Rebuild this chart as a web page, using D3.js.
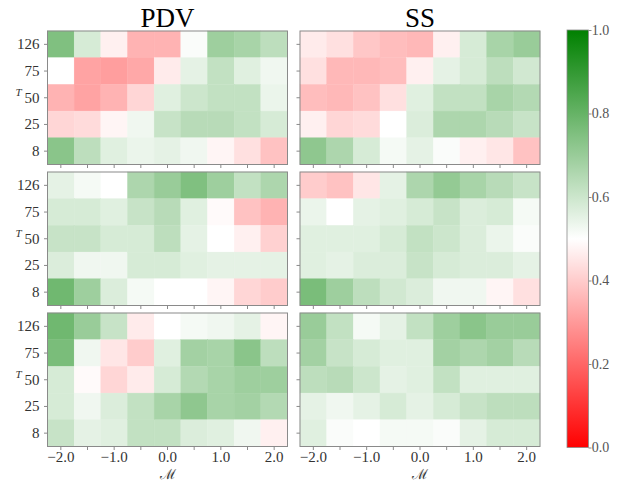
<!DOCTYPE html>
<html>
<head>
<meta charset="utf-8">
<script src="https://cdn.jsdelivr.net/npm/d3@7"></script>
<style>
  body { margin: 0; background: #fff; }
</style>
</head>
<body>
<div id="chart"></div>
<script>
// Axis categories
const mValues = [-2.0, -1.5, -1.0, -0.5, 0.0, 0.5, 1.0, 1.5, 2.0];
const tValues = [126, 75, 50, 25, 8];
const columnTitles = ['PDV', 'SS'];
const colorbarTicks = [0.0, 0.2, 0.4, 0.6, 0.8, 1.0];

// Heatmap values, rows follow tValues (126 at top), columns follow mValues
const pdvTop = [
  [0.75, 0.58, 0.47, 0.35, 0.35, 0.51, 0.69, 0.67, 0.63],
  [0.50, 0.32, 0.31, 0.33, 0.46, 0.55, 0.62, 0.56, 0.53],
  [0.35, 0.32, 0.35, 0.42, 0.56, 0.60, 0.62, 0.62, 0.54],
  [0.42, 0.43, 0.48, 0.53, 0.61, 0.64, 0.64, 0.62, 0.58],
  [0.73, 0.63, 0.56, 0.54, 0.55, 0.53, 0.48, 0.44, 0.38]
];
const ssTop = [
  [0.46, 0.44, 0.39, 0.37, 0.36, 0.47, 0.58, 0.67, 0.70],
  [0.44, 0.36, 0.36, 0.37, 0.47, 0.55, 0.58, 0.63, 0.59],
  [0.37, 0.36, 0.38, 0.44, 0.56, 0.62, 0.62, 0.67, 0.65],
  [0.47, 0.42, 0.43, 0.50, 0.57, 0.66, 0.66, 0.64, 0.61],
  [0.72, 0.66, 0.58, 0.52, 0.55, 0.51, 0.47, 0.45, 0.38]
];
const pdvMid = [
  [0.55, 0.52, 0.50, 0.66, 0.70, 0.75, 0.69, 0.62, 0.66],
  [0.58, 0.58, 0.56, 0.61, 0.64, 0.56, 0.49, 0.38, 0.35],
  [0.61, 0.61, 0.58, 0.58, 0.63, 0.55, 0.50, 0.47, 0.41],
  [0.57, 0.53, 0.53, 0.58, 0.58, 0.56, 0.55, 0.55, 0.55],
  [0.78, 0.69, 0.57, 0.52, 0.50, 0.50, 0.48, 0.42, 0.40]
];
const ssMid = [
  [0.40, 0.38, 0.45, 0.55, 0.66, 0.71, 0.67, 0.64, 0.61],
  [0.54, 0.50, 0.55, 0.56, 0.58, 0.61, 0.57, 0.58, 0.52],
  [0.56, 0.56, 0.56, 0.58, 0.62, 0.60, 0.57, 0.54, 0.51],
  [0.56, 0.55, 0.57, 0.57, 0.61, 0.58, 0.57, 0.57, 0.55],
  [0.76, 0.69, 0.63, 0.59, 0.57, 0.53, 0.53, 0.48, 0.44]
];
const pdvBottom = [
  [0.78, 0.70, 0.61, 0.46, 0.50, 0.52, 0.53, 0.55, 0.48],
  [0.76, 0.53, 0.45, 0.40, 0.56, 0.68, 0.67, 0.73, 0.63],
  [0.58, 0.49, 0.42, 0.46, 0.58, 0.65, 0.67, 0.69, 0.69],
  [0.58, 0.53, 0.57, 0.62, 0.67, 0.72, 0.67, 0.68, 0.65],
  [0.61, 0.55, 0.56, 0.62, 0.62, 0.57, 0.56, 0.53, 0.47]
];
const ssBottom = [
  [0.70, 0.62, 0.52, 0.55, 0.62, 0.69, 0.73, 0.70, 0.70],
  [0.68, 0.61, 0.58, 0.56, 0.56, 0.68, 0.66, 0.68, 0.64],
  [0.63, 0.64, 0.60, 0.55, 0.56, 0.62, 0.56, 0.56, 0.56],
  [0.55, 0.53, 0.55, 0.58, 0.55, 0.58, 0.61, 0.63, 0.63],
  [0.56, 0.51, 0.50, 0.52, 0.52, 0.51, 0.55, 0.58, 0.58]
];

const grid = [
  [pdvTop, ssTop],
  [pdvMid, ssMid],
  [pdvBottom, ssBottom]
];

const width = 640;
const height = 482;
const panelW = 240;
const panelH = 133.5;
const colX = [47.5, 300];
const rowY = [31, 172, 313];
const spineColor = '#8a8a8a';
const textColor = '#333';
const serif = "'Liberation Serif', 'DejaVu Serif', serif";

const svg = d3
  .select('#chart')
  .append('svg')
  .attr('width', width)
  .attr('height', height)
  .style('font-family', serif);

const x = d3.scaleBand().domain(mValues).range([0, panelW]);
const y = d3.scaleBand().domain(tValues).range([0, panelH]);
const color = d3
  .scaleLinear()
  .domain([0, 0.5, 1])
  .range(['#ff0000', '#ffffff', '#008000']);

const fmt = d3.format('.1f');

grid.forEach((row, r) => {
  row.forEach((values, c) => {
    const g = svg
      .append('g')
      .attr('transform', `translate(${colX[c]},${rowY[r]})`);

    // cells
    values.forEach((rowVals, i) => {
      g.selectAll(null)
        .data(rowVals)
        .enter()
        .append('rect')
        .attr('x', (d, j) => x(mValues[j]))
        .attr('y', y(tValues[i]))
        .attr('width', x.bandwidth())
        .attr('height', y.bandwidth())
        .attr('fill', (d) => color(d))
        .attr('stroke', (d) => color(d))
        .attr('stroke-width', 0.4);
    });

    // frame
    g.append('rect')
      .attr('width', panelW)
      .attr('height', panelH)
      .attr('fill', 'none')
      .attr('stroke', spineColor)
      .attr('stroke-width', 1);

    // bottom axis
    const xAxis = d3
      .axisBottom(x)
      .tickSize(3.5)
      .tickPadding(2)
      .tickFormat((d, i) => (r === 2 && i % 2 === 0 ? fmt(d) : ''));
    const gx = g
      .append('g')
      .attr('transform', `translate(0,${panelH})`)
      .call(xAxis);
    gx.select('.domain').remove();
    gx.selectAll('line').attr('stroke', spineColor);
    gx.selectAll('text')
      .style('font-family', serif)
      .style('font-size', '15px')
      .attr('fill', textColor)
      .attr('dy', '0.68em');

    // left axis
    const yAxis = d3
      .axisLeft(y)
      .tickSize(3.5)
      .tickFormat((d) => (c === 0 ? d : ''));
    const gy = g.append('g').call(yAxis);
    gy.select('.domain').remove();
    gy.selectAll('line').attr('stroke', spineColor);
    gy.selectAll('text')
      .style('font-family', serif)
      .style('font-size', '15px')
      .attr('fill', textColor)
      .attr('dx', '-0.1em');

    // y label
    if (c === 0) {
      g.append('text')
        .attr('x', -29)
        .attr('y', panelH / 2 - 4)
        .attr('text-anchor', 'middle')
        .attr('dominant-baseline', 'middle')
        .attr('font-style', 'italic')
        .attr('font-size', 11)
        .attr('fill', textColor)
        .text('T');
    }

    // column titles
    if (r === 0) {
      g.append('text')
        .attr('x', panelW / 2)
        .attr('y', -4)
        .attr('text-anchor', 'middle')
        .attr('font-size', 27)
        .attr('fill', '#000')
        .text(columnTitles[c]);
    }

    // x label
    if (r === 2) {
      g.append('text')
        .attr('x', panelW / 2)
        .attr('y', panelH + 32)
        .attr('text-anchor', 'middle')
        .style('font-family', "'DejaVu Serif', serif")
        .style('font-size', '14px')
        .attr('fill', textColor)
        .text('ℳ');
    }
  });
});

// Colorbar
const cbX = 567;
const cbW = 21.5;
const cbTop = 30;
const cbBottom = 447.5;

const defs = svg.append('defs');
const grad = defs
  .append('linearGradient')
  .attr('id', 'cbar')
  .attr('x1', 0)
  .attr('y1', 1)
  .attr('x2', 0)
  .attr('y2', 0);
d3.range(0, 1.0001, 0.05).forEach((v) => {
  grad.append('stop').attr('offset', v).attr('stop-color', color(v));
});

svg
  .append('rect')
  .attr('x', cbX)
  .attr('y', cbTop)
  .attr('width', cbW)
  .attr('height', cbBottom - cbTop)
  .attr('fill', 'url(#cbar)')
  .attr('stroke', spineColor)
  .attr('stroke-width', 0.8);

const cbScale = d3.scaleLinear().domain([0, 1]).range([cbBottom, cbTop]);
const cbAxis = d3
  .axisRight(cbScale)
  .tickValues(colorbarTicks)
  .tickSize(3)
  .tickFormat(fmt);
const gc = svg
  .append('g')
  .attr('transform', `translate(${cbX + cbW},0)`)
  .call(cbAxis);
gc.select('.domain').remove();
gc.selectAll('line').attr('stroke', spineColor);
gc.selectAll('text')
  .style('font-family', serif)
  .style('font-size', '14px')
  .attr('fill', '#555')
  .attr('dx', '-0.2em');
</script>
</body>
</html>
